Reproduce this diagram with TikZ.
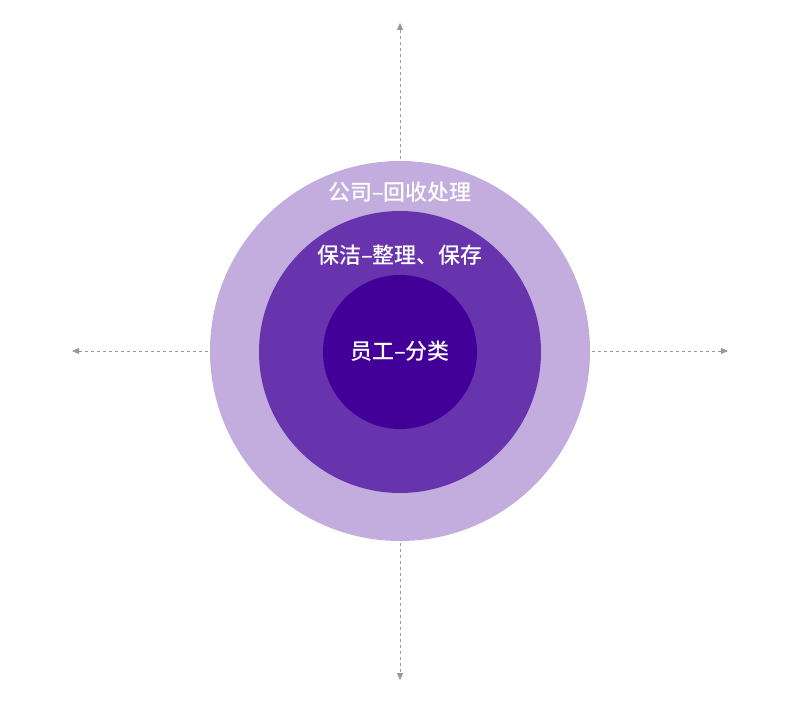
\documentclass[tikz,border=0pt]{standalone}
\usepackage{fontspec}
\newfontfamily\cjk{Noto Sans CJK SC Medium}
\usetikzlibrary{arrows.meta}
\begin{document}
\begin{tikzpicture}[x=1pt, y=-1pt,
        axis/.style={-{Triangle[length=7pt, width=6pt]}, dashed, gray!80, line width=0.8pt},
        ring/.style={text=white, font=\cjk\fontsize{22}{26}\selectfont}]
        \useasboundingbox (0,0) rectangle (800,703);
        \coordinate (o) at (400, 351);
        \coordinate (top) at (400, 23);
        \coordinate (bottom) at (400, 680);
        \coordinate (left) at (72, 351);
        \coordinate (right) at (728, 351);
        \draw[axis] (o)--(top);
        \draw[axis] (o)--(bottom);
        \draw[axis] (o)--(left);
        \draw[axis] (o)--(right);
        \fill[color={rgb,255:red,194;green,173;blue,222}] (400, 351) circle (190);
        \fill[color={rgb,255:red,104;green,52;blue,173}] (400, 352) circle (141);
        \fill[color={rgb,255:red,66;green,0;blue,153}] (400, 352) circle (77);
        \node[ring] (company) at (400, 192) {公司–回收处理};
        \node[ring] (cleaner) at (400, 255) {保洁–整理、保存};
        \node[ring] (staff) at (400, 351) {员工–分类};
    \end{tikzpicture}
\end{document}
